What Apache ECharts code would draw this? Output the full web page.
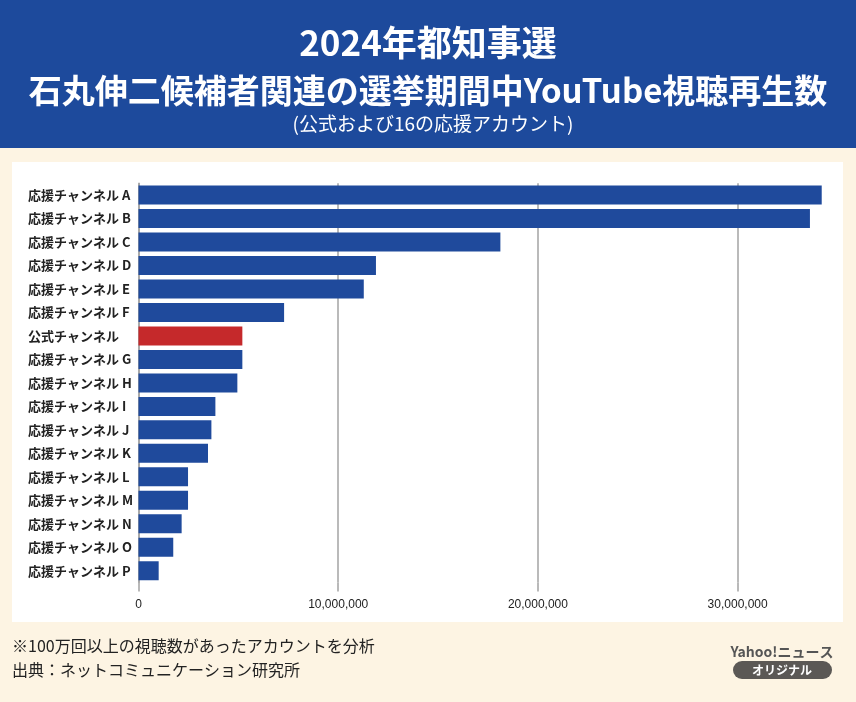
<!DOCTYPE html>
<html><head><meta charset="utf-8">
<script src="https://cdn.jsdelivr.net/npm/echarts@6/dist/echarts.min.js"></script>
<style>html,body{margin:0;padding:0;background:#fdf4e3;}#c{width:856px;height:702px;}</style>
</head><body><div id="c"></div>
<script>
const categories = ['応援チャンネル A','応援チャンネル B','応援チャンネル C','応援チャンネル D','応援チャンネル E','応援チャンネル F','公式チャンネル','応援チャンネル G','応援チャンネル H','応援チャンネル I','応援チャンネル J','応援チャンネル K','応援チャンネル L','応援チャンネル M','応援チャンネル N','応援チャンネル O','応援チャンネル P'];
const views = [34210000,33620000,18120000,11890000,11280000,7290000,5200000,5200000,4950000,3850000,3650000,3480000,2480000,2480000,2160000,1740000,1010000];
const highlight = '公式チャンネル';
const tickValues = [0,10000000,20000000,30000000];
const tickLabels = ['0','10,000,000','20,000,000','30,000,000'];
const titleLine1 = '2024年都知事選';
const titleLine2 = '石丸伸二候補者関連の選挙期間中YouTube視聴再生数';
const subtitle = '(公式および16の応援アカウント)';
const note1 = '※100万回以上の視聴数があったアカウントを分析';
const note2 = '出典：ネットコミュニケーション研究所';

const JP = '"Noto Sans CJK JP","Noto Sans",sans-serif';
const BLUE = '#1f4a9c', RED = '#c5292b', GRID = '#a3a3a3';
const chart = echarts.init(document.getElementById('c'), null, {renderer:'canvas'});
chart.setOption({
  backgroundColor:'#fdf4e3',
  animation:false,
  graphic:[
    {type:'rect',z:-10,shape:{x:0,y:0,width:856,height:148},style:{fill:'#1d4a9c'}},
    {type:'rect',z:-10,shape:{x:12,y:162,width:831,height:460},style:{fill:'#ffffff'}},
    {type:'text',x:428,y:43,style:{text:titleLine1,fill:'#fff',font:'bold 35px '+JP,align:'center',verticalAlign:'middle'}},
    {type:'text',x:428,y:90,style:{text:titleLine2,fill:'#fff',font:'bold 33px '+JP,align:'center',verticalAlign:'middle'}},
    {type:'text',x:433,y:124,style:{text:subtitle,fill:'#fff',font:'19px '+JP,align:'center',verticalAlign:'middle'}},
    {type:'text',x:12,y:646,style:{text:note1,fill:'#222',font:'16px '+JP,verticalAlign:'middle'}},
    {type:'text',x:12,y:670,style:{text:note2,fill:'#222',font:'16px '+JP,verticalAlign:'middle'}},
    {type:'text',x:782,y:652,style:{text:'Yahoo!ニュース',fill:'#555',font:'bold 14px '+JP,align:'center',verticalAlign:'middle'}},
    {type:'rect',shape:{x:733,y:661,width:99,height:18,r:9},style:{fill:'#5b5855'}},
    {type:'text',x:782,y:670,style:{text:'オリジナル',fill:'#fff',font:'bold 12px '+JP,align:'center',verticalAlign:'middle'}}
  ],
  grid:{left:138.5,right:18.5,top:183.3,bottom:119.5,containLabel:false},
  xAxis:{type:'value',min:0,max:35000000,interval:10000000,
    axisLine:{show:false},
    axisTick:{show:true,length:9,customValues:tickValues,lineStyle:{color:GRID,width:1.5}},
    splitLine:{show:true,lineStyle:{color:GRID,width:1.5}},
    axisLabel:{margin:16,fontSize:12,color:'#222',customValues:tickValues,fontFamily:'"Liberation Sans Narrow","Liberation Sans",sans-serif',
      formatter:v=>{const i=tickValues.indexOf(v);return i>=0?tickLabels[i]:'';}}
  },
  yAxis:{type:'category',data:categories,inverse:true,
    axisLine:{show:true,lineStyle:{color:GRID,width:1.5}},
    axisTick:{show:false},
    axisLabel:{align:'left',margin:110.5,fontSize:13,fontWeight:'bold',color:'#222',fontFamily:JP,interval:0}
  },
  series:[{type:'bar',barWidth:19,z:3,
    data:views.map((v,i)=>({value:v,itemStyle:{color:categories[i]===highlight?RED:BLUE}}))
  }]
});
</script></body></html>
